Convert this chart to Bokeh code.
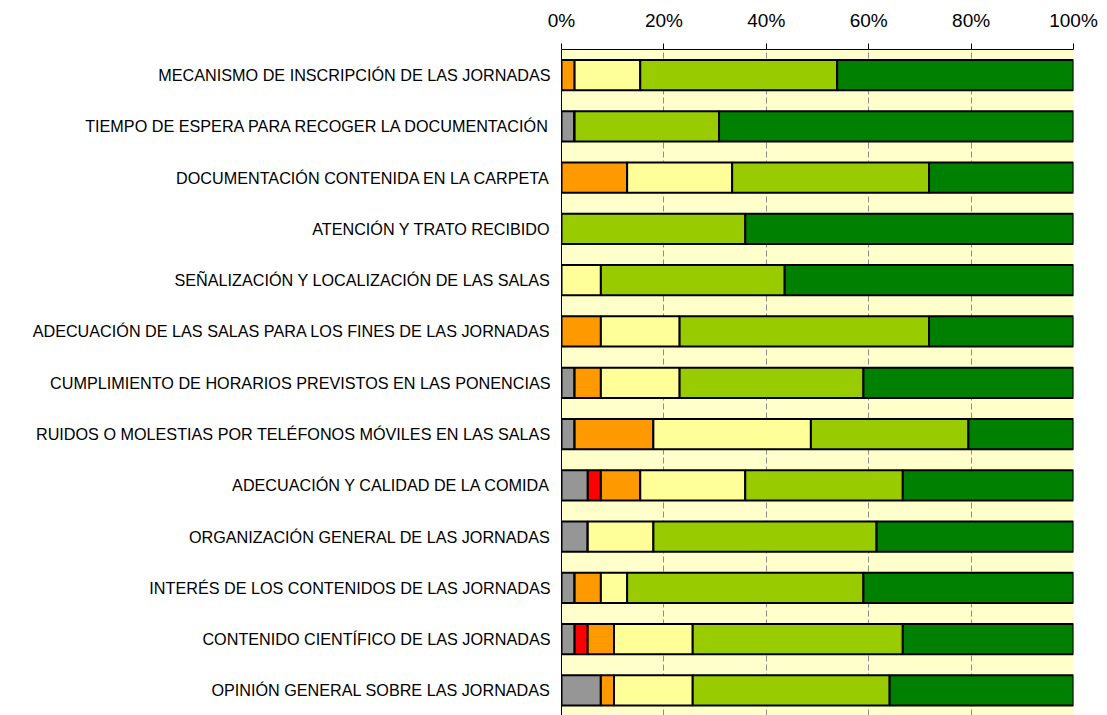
from bokeh.plotting import figure
from bokeh.models import ColumnDataSource, Range1d, FixedTicker
from bokeh.embed import file_html
from bokeh.resources import INLINE

categories = [
    "MECANISMO DE INSCRIPCIÓN DE LAS JORNADAS",
    "TIEMPO DE ESPERA PARA RECOGER LA DOCUMENTACIÓN",
    "DOCUMENTACIÓN CONTENIDA EN LA CARPETA",
    "ATENCIÓN Y TRATO RECIBIDO",
    "SEÑALIZACIÓN Y LOCALIZACIÓN DE LAS SALAS",
    "ADECUACIÓN DE LAS SALAS PARA LOS FINES DE LAS JORNADAS",
    "CUMPLIMIENTO DE HORARIOS PREVISTOS EN LAS PONENCIAS",
    "RUIDOS O MOLESTIAS POR TELÉFONOS MÓVILES EN LAS SALAS",
    "ADECUACIÓN Y CALIDAD DE LA COMIDA",
    "ORGANIZACIÓN GENERAL DE LAS JORNADAS",
    "INTERÉS DE LOS CONTENIDOS DE LAS JORNADAS",
    "CONTENIDO CIENTÍFICO DE LAS JORNADAS",
    "OPINIÓN GENERAL SOBRE LAS JORNADAS",
]

# percentages per category (top to bottom)
ns_nc = [0, 2.56, 0, 0, 0, 0, 2.56, 2.56, 5.13, 5.13, 2.56, 2.56, 7.69]
muy_mal = [0, 0, 0, 0, 0, 0, 0, 0, 2.56, 0, 0, 2.56, 0]
mal = [2.56, 0, 12.82, 0, 0, 7.69, 5.13, 15.38, 7.69, 0, 5.13, 5.13, 2.56]
regular = [12.82, 0, 20.51, 0, 7.69, 15.38, 15.38, 30.77, 20.51, 12.82, 5.13, 15.38, 15.38]
bien = [38.46, 28.21, 38.46, 35.90, 35.90, 48.72, 35.90, 30.77, 30.77, 43.59, 46.15, 41.03, 38.46]
muy_bien = [46.16, 69.23, 28.21, 64.10, 56.41, 28.21, 41.03, 20.52, 33.34, 38.46, 41.03, 33.34, 35.91]

tick_values = [0, 20, 40, 60, 80, 100]
tick_labels = ["0%", "20%", "40%", "60%", "80%", "100%"]

series = ["ns_nc", "muy_mal", "mal", "regular", "bien", "muy_bien"]
colors = ["#969696", "#FF0000", "#FF9900", "#FFFF99", "#99CC00", "#008000"]

n = len(categories)
ypos = [n - 1 - i for i in range(n)]

src = ColumnDataSource(dict(
    y=ypos, ns_nc=ns_nc, muy_mal=muy_mal, mal=mal, regular=regular,
    bien=bien, muy_bien=muy_bien,
))

p = figure(
    output_backend="svg", toolbar_location=None,
    x_axis_location="above",
    x_range=Range1d(0, 100), y_range=Range1d(-0.49, n - 0.5),
    frame_width=512, frame_height=666,
    min_border_left=561, min_border_right=26,
    min_border_top=49, min_border_bottom=0,
)
p.width = 1099
p.height = 715

p.background_fill_color = "#FFFFCC"
p.border_fill_color = "white"
p.outline_line_color = None

p.hbar_stack(series, y="y", height=0.59, color=colors, line_color="black",
             line_width=2, source=src)

# x axis (top)
p.xaxis.ticker = FixedTicker(ticks=tick_values)
p.xaxis.major_label_overrides = {v: l for v, l in zip(tick_values, tick_labels)}
p.xaxis.minor_tick_line_color = None
p.xaxis.major_tick_in = 0
p.xaxis.major_tick_out = 6
p.xaxis.major_tick_line_color = "black"
p.xaxis.axis_line_color = "black"
p.xaxis.major_label_text_font = "Liberation Sans"
p.xaxis.major_label_text_font_size = "19px"
p.xaxis.major_label_text_color = "black"
p.xaxis.major_label_standoff = 13

# y axis (categories)
p.yaxis.ticker = FixedTicker(ticks=ypos)
p.yaxis.major_label_overrides = {y: c for y, c in zip(ypos, categories)}
p.yaxis.minor_tick_line_color = None
p.yaxis.major_tick_line_color = None
p.yaxis.major_tick_in = 0
p.yaxis.major_tick_out = 0
p.yaxis.axis_line_color = "black"
p.yaxis.major_label_text_font = "Liberation Sans"
p.yaxis.major_label_text_font_size = "16.2px"
p.yaxis.major_label_text_color = "black"
p.yaxis.major_label_standoff = 11

p.xgrid.ticker = FixedTicker(ticks=tick_values)
p.xgrid.grid_line_color = "#8C8C8C"
p.xgrid.grid_line_dash = "6 3"
p.xgrid.grid_line_width = 1
p.ygrid.grid_line_color = None

open("out.html", "w").write(file_html(p, INLINE))
